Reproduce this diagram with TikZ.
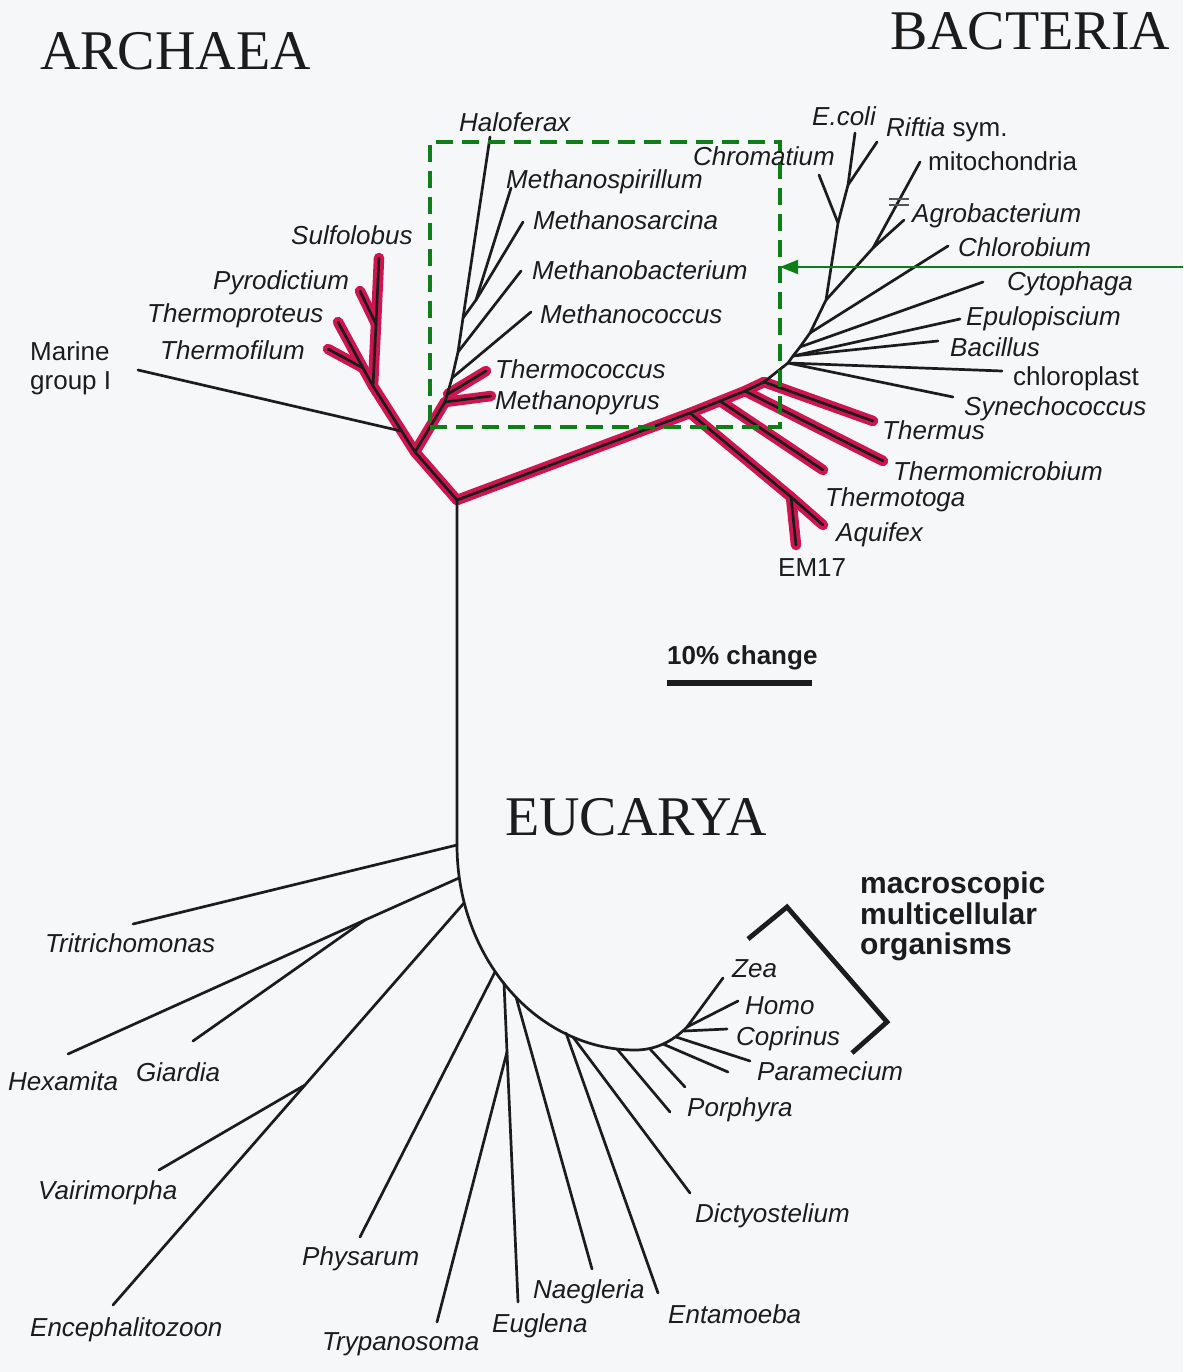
\documentclass[tikz,border=0pt]{standalone}
\usepackage{fontspec}
\setmainfont{Liberation Serif}
\setsansfont{Liberation Sans}
\usetikzlibrary{arrows.meta}
\definecolor{hotred}{RGB}{208,20,80}
\definecolor{boxgreen}{RGB}{12,128,22}
\definecolor{ink}{RGB}{28,28,28}
\definecolor{paper}{RGB}{246,247,249}
\begin{document}
\begin{tikzpicture}[x=1pt,y=-1pt,
  br/.style={draw=ink,line width=2.7pt,line cap=round,line join=round},
  hot/.style={draw=hotred,line width=10.5pt,line cap=round,line join=round},
  lab/.style={font=\sffamily\itshape\fontsize{26}{30}\selectfont,text=ink,anchor=base west,inner sep=0pt},
  labu/.style={font=\sffamily\fontsize{26}{30}\selectfont,text=ink,anchor=base west,inner sep=0pt},
  dom/.style={font=\fontsize{56}{60}\selectfont,text=ink,anchor=base west,inner sep=0pt},
  boldlab/.style={font=\sffamily\bfseries\fontsize{30}{32}\selectfont,text=ink,anchor=base west,inner sep=0pt}]

\fill[paper] (0,0) rectangle (1183,1372);
\useasboundingbox (0,0) rectangle (1183,1372);

% ---------- coordinates: root and archaea
\coordinate (R) at (457,500);
\coordinate (A1) at (415,452);
\coordinate (M) at (401,431);
\coordinate (C1) at (373,386);
\coordinate (Pj) at (376,324);
\coordinate (Sul) at (379,258);
\coordinate (Pyr) at (360,291);
\coordinate (Tfj) at (363,368);
\coordinate (Tpr) at (338,322);
\coordinate (Tfi) at (328,349);
\coordinate (Mar) at (138,370);
\coordinate (E1) at (445,402);
\coordinate (E1b) at (448,394);
\coordinate (E2) at (452,378);
\coordinate (E3) at (458,352);
\coordinate (E4) at (463,318);
\coordinate (E5) at (476,300);
\coordinate (Hal) at (490,137);
\coordinate (Msp) at (511,188);
\coordinate (Msa) at (523,222);
\coordinate (Mba) at (521,271);
\coordinate (Mco) at (531,312);
\coordinate (Tco) at (486,371);
\coordinate (Mpy) at (491,396);

% ---------- bacteria
\coordinate (Ba) at (690,413);
\coordinate (Bb) at (720,401);
\coordinate (Bc) at (745,391);
\coordinate (Bd) at (764,382);
\coordinate (F0) at (788,363);
\coordinate (Ax) at (791,497);
\coordinate (Aqu) at (823,525);
\coordinate (EM) at (796,545);
\coordinate (Tto) at (823,470);
\coordinate (Tmi) at (883,461);
\coordinate (Tth) at (873,421);
\coordinate (Chl) at (1002,371);
\coordinate (Syn) at (953,397);
\coordinate (Fb) at (793,356);
\coordinate (Bac) at (938,341);
\coordinate (Epu) at (960,319);
\coordinate (Fc) at (800,347);
\coordinate (Cyt) at (983,282);
\coordinate (Fd) at (810,333);
\coordinate (Clb) at (948,246);
\coordinate (Fe) at (826,300);
\coordinate (G1) at (873,248);
\coordinate (Mit) at (920,162);
\coordinate (Agr) at (904,220);
\coordinate (Fch) at (838,223);
\coordinate (Chr) at (819,175);
\coordinate (Fec) at (848,185);
\coordinate (Eco) at (855,133);
\coordinate (Rif) at (877,142);
\coordinate (Bk1a) at (889,199);
\coordinate (Bk1b) at (909,199);
\coordinate (Bk2a) at (889,205);
\coordinate (Bk2b) at (909,205);

% ---------- eucarya
\coordinate (K0) at (457,845);
\coordinate (K0c) at (457,958);
\coordinate (K1c) at (537,1050);
\coordinate (K1) at (635,1050);
\coordinate (K1d) at (655,1050);
\coordinate (Zjc) at (672,1042);
\coordinate (Zj) at (687,1027);
\coordinate (Zea) at (723,978);
\coordinate (Tri) at (133,924);
\coordinate (eHG) at (459,878);
\coordinate (HGj) at (365,920);
\coordinate (Hex) at (68,1054);
\coordinate (Gia) at (193,1041);
\coordinate (eVE) at (464,903);
\coordinate (VEj) at (305,1085);
\coordinate (Vai) at (159,1170);
\coordinate (Enc) at (113,1305);
\coordinate (ePhy) at (495,972);
\coordinate (Phy) at (360,1237);
\coordinate (eEug) at (504,983);
\coordinate (Eug) at (518,1302);
\coordinate (Tj) at (507,1052);
\coordinate (Try) at (437,1322);
\coordinate (eNae) at (516,997);
\coordinate (Nae) at (592,1269);
\coordinate (eEnt) at (566,1033);
\coordinate (Ent) at (658,1293);
\coordinate (eDic) at (573,1037);
\coordinate (Dic) at (690,1193);
\coordinate (ePo1) at (617,1049);
\coordinate (Po1) at (670,1112);
\coordinate (ePo2) at (650,1049);
\coordinate (Po2) at (685,1087);
\coordinate (ePa1) at (663,1044);
\coordinate (Pa1) at (728,1072);
\coordinate (ePa2) at (676,1037);
\coordinate (Pa2) at (750,1061);
\coordinate (eCop) at (684,1031);
\coordinate (Cop) at (727,1029);
\coordinate (Hom) at (738,1001);
\coordinate (Br1) at (748,939);
\coordinate (Br2) at (787,907);
\coordinate (Br3) at (887,1022);
\coordinate (Br4) at (852,1053);
\coordinate (Sb1) at (667,683);
\coordinate (Sb2) at (812,683);
\coordinate (ArS) at (1183,267);

% ---------- red highlight (thermophiles)
\draw[hot] (R) -- (A1) -- (C1) -- (Pj) -- (Sul);
\draw[hot] (Pj) -- (Pyr);
\draw[hot] (C1) -- (Tfj) -- (Tpr);
\draw[hot] (Tfj) -- (Tfi);
\draw[hot] (A1) -- (E1);
\draw[hot] (E1) -- (Mpy);
\draw[hot] (E1b) -- (Tco);
\draw[hot] (R) -- (Ba) -- (Bb) -- (Bc) -- (Bd);
\draw[hot] (Ba) -- (Ax) -- (Aqu);
\draw[hot] (Ax) -- (EM);
\draw[hot] (Bb) -- (Tto);
\draw[hot] (Bc) -- (Tmi);
\draw[hot] (Bd) -- (Tth);

% ---------- black branches: archaea
\draw[br] (R) -- (A1) -- (C1) -- (Pj) -- (Sul);
\draw[br] (Pj) -- (Pyr);
\draw[br] (C1) -- (Tfj) -- (Tpr);
\draw[br] (Tfj) -- (Tfi);
\draw[br] (M) -- (Mar);
\draw[br] (A1) -- (E1) -- (E2) -- (E3) -- (E4) -- (Hal);
\draw[br] (E1) -- (Mpy);
\draw[br] (E1b) -- (Tco);
\draw[br] (E2) -- (Mco);
\draw[br] (E3) -- (Mba);
\draw[br] (E4) -- (E5) -- (Msa);
\draw[br] (E5) -- (Msp);

% ---------- black branches: bacteria
\draw[br] (R) -- (Ba) -- (Bb) -- (Bc) -- (Bd) -- (F0) -- (Chl);
\draw[br] (Ba) -- (Ax) -- (Aqu);
\draw[br] (Ax) -- (EM);
\draw[br] (Bb) -- (Tto);
\draw[br] (Bc) -- (Tmi);
\draw[br] (Bd) -- (Tth);
\draw[br] (F0) -- (Syn);
\draw[br] (F0) -- (Fb) -- (Fc) -- (Fd) -- (Fe) -- (Fch) -- (Fec) -- (Eco);
\draw[br] (Fb) -- (Bac);
\draw[br] (Fb) -- (Epu);
\draw[br] (Fc) -- (Cyt);
\draw[br] (Fd) -- (Clb);
\draw[br] (Fe) -- (G1) -- (Mit);
\draw[br] (G1) -- (Agr);
\draw[br] (Fch) -- (Chr);
\draw[br] (Fec) -- (Rif);
\draw[draw=ink!75,line width=2pt] (Bk1a) -- (Bk1b);
\draw[draw=ink!75,line width=2pt] (Bk2a) -- (Bk2b);

% ---------- black branches: eucarya
\draw[br] (R) -- (K0) .. controls (K0c) and (K1c) .. (K1) .. controls (K1d) and (Zjc) .. (Zj) -- (Zea);
\draw[br] (K0) -- (Tri);
\draw[br] (eHG) -- (HGj) -- (Hex);
\draw[br] (HGj) -- (Gia);
\draw[br] (eVE) -- (VEj) -- (Enc);
\draw[br] (VEj) -- (Vai);
\draw[br] (ePhy) -- (Phy);
\draw[br] (eEug) -- (Tj) -- (Eug);
\draw[br] (Tj) -- (Try);
\draw[br] (eNae) -- (Nae);
\draw[br] (eEnt) -- (Ent);
\draw[br] (eDic) -- (Dic);
\draw[br] (ePo1) -- (Po1);
\draw[br] (ePo2) -- (Po2);
\draw[br] (ePa1) -- (Pa1);
\draw[br] (ePa2) -- (Pa2);
\draw[br] (eCop) -- (Cop);
\draw[br] (Zj) -- (Hom);
\draw[draw=ink,line width=4.8pt,line join=miter,line cap=butt] (Br1) -- (Br2) -- (Br3) -- (Br4);

% ---------- scale bar
\draw[draw=ink,line width=6pt] (Sb1) -- (Sb2);
\node[boldlab,font=\sffamily\bfseries\fontsize{26}{30}\selectfont] (scale) at (667,664) {10\% change};

% ---------- green box and arrow
\node[draw=boxgreen,line width=3.5pt,dash pattern=on 17pt off 9pt,minimum width=350pt,minimum height=285pt,inner sep=0pt,outer sep=0pt,anchor=north west] (box) at (430,142) {};
\draw[draw=boxgreen,line width=2pt,-{Triangle[length=18pt,width=14pt]}] (ArS) -- (box.east |- ArS);

% ---------- domain titles
\node[dom] (archaea) at (40,70) {ARCHAEA};
\node[dom] (bacteria) at (890,50) {BACTERIA};
\node[dom] (eucarya) at (505,835) {EUCARYA};

% ---------- labels archaea
\node[lab] (lHal) at (459,132) {Haloferax};
\node[lab] (lMsp) at (506,189) {Methanospirillum};
\node[lab] (lMsa) at (533,230) {Methanosarcina};
\node[lab] (lMba) at (532,279) {Methanobacterium};
\node[lab] (lMco) at (540,323) {Methanococcus};
\node[lab] (lTco) at (495,378) {Thermococcus};
\node[lab] (lMpy) at (495,409) {Methanopyrus};
\node[lab] (lSul) at (291,244) {Sulfolobus};
\node[lab] (lPyr) at (213,289) {Pyrodictium};
\node[lab] (lTpr) at (147,322) {Thermoproteus};
\node[lab] (lTfi) at (160,359) {Thermofilum};
\node[labu] (lMar1) at (30,360) {Marine};
\node[labu] (lMar2) at (30,389) {group I};

% ---------- labels bacteria
\node[lab] (lChr) at (693,166) {Chromatium};
\node[lab] (lEco) at (812,126) {E.coli};
\node[lab] (lRif) at (886,137) {Riftia\upshape\ sym.};
\node[labu] (lMit) at (928,171) {mitochondria};
\node[lab] (lAgr) at (912,223) {Agrobacterium};
\node[lab] (lClb) at (958,257) {Chlorobium};
\node[lab] (lCyt) at (1007,290) {Cytophaga};
\node[lab] (lEpu) at (966,325) {Epulopiscium};
\node[lab] (lBac) at (950,356) {Bacillus};
\node[labu] (lChl) at (1013,385) {chloroplast};
\node[lab] (lSyn) at (964,415) {Synechococcus};
\node[lab] (lTth) at (882,439) {Thermus};
\node[lab] (lTmi) at (893,480) {Thermomicrobium};
\node[lab] (lTto) at (825,506) {Thermotoga};
\node[lab] (lAqu) at (836,541) {Aquifex};
\node[labu] (lEM) at (778,576) {EM17};

% ---------- labels eucarya
\node[boldlab] (mac1) at (860,893) {macroscopic};
\node[boldlab] (mac2) at (860,924) {multicellular};
\node[boldlab] (mac3) at (860,954) {organisms};
\node[lab] (lZea) at (732,977) {Zea};
\node[lab] (lHom) at (745,1014) {Homo};
\node[lab] (lCop) at (736,1045) {Coprinus};
\node[lab] (lPar) at (757,1080) {Paramecium};
\node[lab] (lPor) at (687,1116) {Porphyra};
\node[lab] (lDic) at (695,1222) {Dictyostelium};
\node[lab] (lEnt) at (668,1323) {Entamoeba};
\node[lab] (lNae) at (533,1298) {Naegleria};
\node[lab] (lEug) at (492,1332) {Euglena};
\node[lab] (lTry) at (322,1350) {Trypanosoma};
\node[lab] (lPhy) at (302,1265) {Physarum};
\node[lab] (lEnc) at (30,1336) {Encephalitozoon};
\node[lab] (lVai) at (38,1199) {Vairimorpha};
\node[lab] (lHex) at (8,1090) {Hexamita};
\node[lab] (lGia) at (136,1081) {Giardia};
\node[lab] (lTri) at (45,952) {Tritrichomonas};
\end{tikzpicture}
\end{document}
